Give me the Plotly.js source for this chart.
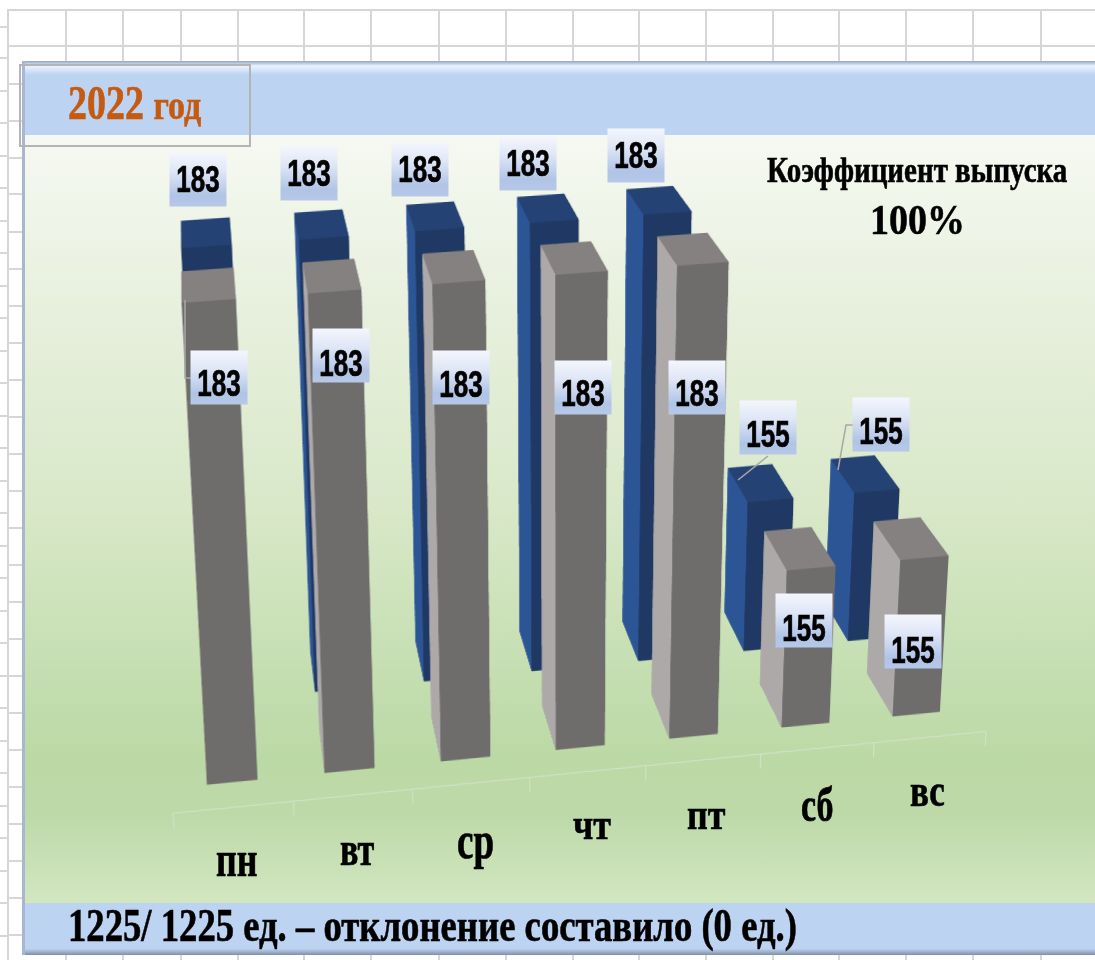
<!DOCTYPE html>
<html><head><meta charset="utf-8">
<script src="https://cdn.plot.ly/plotly-3.0.1.min.js"></script>
<style>
html,body{margin:0;padding:0;width:1095px;height:960px;overflow:hidden;background:#fff;}
#stage{position:absolute;left:0;top:0;width:1095px;height:960px;overflow:hidden;}
#sheet{position:absolute;left:0;top:0;width:1095px;height:960px;}
#sheet div{position:absolute;background:#d6d6d6;}
#panel{position:absolute;left:22px;top:61px;width:1073px;height:894px;border-left:3px solid #a9b6d0;box-sizing:border-box;
background:linear-gradient(180deg,#f6f9f2 8%,#e8f0de 27%,#d8e8c8 50%,#bbd9a5 78%,#bdd9a8 84%,#d2e6c0 94%);}
#topband{position:absolute;left:0;top:0;right:0;height:74px;background:linear-gradient(180deg,#8fa4cc 0,#eaf3ff 5px,#bdd3f2 14px,#bdd3f2 100%);}
#botband{position:absolute;left:0;bottom:0;right:0;height:52px;background:linear-gradient(180deg,#bdd3f2 0,#bdd3f2 88%,#7f8ea8 100%);}
#chart{position:absolute;}
#chart canvas{transform:matrix(1,-0.035,0,1,0,0);transform-origin:50% 50%;}
</style></head><body>
<div id="stage">
<div id="sheet"></div>
<div id="panel"><div id="topband"></div><div id="botband"></div></div>
<div id="chart"></div>
</div>
<script>
var days=["пн","вт","ср","чт","пт","сб","вс"];
var plan=[183,183,183,183,183,155,155];
var fact=[183,183,183,183,183,155,155];
var axisMin=140;
var noteTitle="Коэффициент выпуска";
var notePct="100%";
var footerText="1225/ 1225 ед. – отклонение составило (0 ед.)";

// layout constants
var W=2400,H=2130,CX=560,CY=429;
var offX=CX-W/2,offY=CY-H/2;
var chartEl=document.getElementById('chart');
chartEl.style.left=offX+'px';chartEl.style.top=offY+'px';
chartEl.style.width=W+'px';chartEl.style.height=H+'px';
function px(x){return (x-offX)/W;}
function py(y){return 1-(y-offY)/H;}

// spreadsheet grid behind the panel
(function(){
  var s=document.getElementById('sheet');
  function line(l,t,w,h){var d=document.createElement('div');d.style.cssText='left:'+l+'px;top:'+t+'px;width:'+w+'px;height:'+h+'px';s.appendChild(d);}
  [65,122,180,237,303,370,438,505,572,638,705,772,838,905,972,1040].forEach(function(x){line(x,9,2,52);line(x,955,2,5);});
  line(8,9,1087,2);line(8,45,1087,2);line(7,9,2,951);
  [26,57,90,122,155,187,220,252,285,317,350,382,415,447,480,512,545,577,610,642,675,707,740,772,805,837,870,902,935].forEach(function(y){line(0,y,7,2);});
  [83,120,157,193,231,268,305,342,379,416,453,490,527,564,601,638,675,712,749,786,823,860,897,934].forEach(function(y){line(8,y,14,2);});
})();

var GRAY={front:'#6f6c6c',left:'#ada9a8',top:'#858180'};
var BLUE={front:'#1f3864',left:'#2c5595',top:'#254274'};
var barW=0.43,barD=0.56;
function box(cx,cy,val,c){
  var x0=cx-barW/2,x1=cx+barW/2,y0=cy-barD/2,y1=cy+barD/2,z0=axisMin,z1=val;
  return {type:'mesh3d',x:[x0,x1,x1,x0,x0,x1,x1,x0],y:[y0,y0,y1,y1,y0,y0,y1,y1],z:[z0,z0,z0,z0,z1,z1,z1,z1],
   i:[0,0,4,4,0,0,1,1,2,2,3,3],j:[1,2,5,6,1,5,2,6,3,7,0,4],k:[2,3,6,7,5,4,6,5,7,6,4,7],
   facecolor:[c.front,c.front,c.top,c.top,c.front,c.front,c.front,c.front,c.left,c.left,c.left,c.left],
   flatshading:true,hoverinfo:'skip',showscale:false,
   lighting:{ambient:1,diffuse:0,specular:0,roughness:1,fresnel:0}};
}
var traces=[];
days.forEach(function(d,i){
  traces.push(box(i+0.5,1.5,plan[i],BLUE));
  traces.push(box(i+0.5,0.5,fact[i],GRAY));
});
// category axis: one line plus a tick at each category boundary
var axisY=-0.06,axisLine={color:'#d5e2ca',width:2};
function axisTrace(xs,ys,zs){return {type:'scatter3d',mode:'lines',x:xs,y:ys,z:zs,line:axisLine,hoverinfo:'skip'};}
traces.push(axisTrace([0,days.length],[axisY,axisY],[axisMin,axisMin]));
for(var t=0;t<=days.length;t++){traces.push(axisTrace([t,t],[axisY,axisY],[axisMin,axisMin-1.4]));}

var serif="'Liberation Serif','Times New Roman',serif";
var sans="'Liberation Sans',sans-serif";
var anns=[];
function txt(s,x,y,size,color,sy,family,extra){
  var a={text:s,xref:'paper',yref:'paper',x:px(x),y:py(y),xanchor:'center',yanchor:'middle',showarrow:false,
    font:{family:family||serif,size:size,color:color||'#000'},_sy:sy||1,_dy:0,_stroke:0.5};
  for(var k in extra)a[k]=extra[k];
  anns.push(a);
}
// label box centre x, y, and text drop within the box
var planBox=[[198,180,0],[309,174,0],[420,169,0],[528,163,0],[636,156,0],[768,428,7],[881,425,7]];
var factBox=[[219,377.5,5.5],[341,355.5,7.5],[461,377.5,6.5],[583,387.5,5.5],[697,387.5,5.5],[804,620,8],[913,641,9]];
function lab(v,p){txt('<b>'+v+'</b>',p[0],p[1],26,'#000',1.4,sans,{width:56,height:53,bgcolor:'#c9d8f0',borderpad:0,_dy:p[2]});}
plan.forEach(function(v,i){lab(v,planBox[i]);});
fact.forEach(function(v,i){lab(v,factBox[i]);});
var labelCount=anns.length;
var dayPos=[[236,859,36,1.4],[357,848,34,1.4],[475,839,37,1.45],[592,824,36,1.25],[706,814,36,1.25],[817,804,34,1.45],[927,790,35,1.35]];
function bold(s){return '<b>'+s+'</b>';}
days.forEach(function(d,i){txt(bold(d),dayPos[i][0],dayPos[i][1],dayPos[i][2],'#000',dayPos[i][3]);});
txt(bold('2022')+' '+'<b style="font-size:34px">год</b>',134,103,38,'#c55a11',1.25);
txt(bold(noteTitle),917,170,29,'#000',1.25);
txt(bold(notePct),917,220,38,'#000',1.1);
txt(bold(footerText),432,925,36.7,'#000',1.25);

var grayLine={color:'#a8a8a8',width:1.5};
// y axis spans 3 rows so the category axis in front of the bars is kept; one row is 0.46 scene units
var rowUnits=0.46,pivotY=rowUnits*0.5;
var layout={width:W,height:H,margin:{l:0,r:0,t:0,b:0,pad:0},paper_bgcolor:'rgba(0,0,0,0)',showlegend:false,
 scene:{domain:{x:[0,1],y:[0,1]},aspectmode:'manual',aspectratio:{x:1.988,y:rowUnits*3,z:1.70},
  bgcolor:'rgba(0,0,0,0)',
  xaxis:{visible:false,range:[0,7]},yaxis:{visible:false,range:[-1,2]},zaxis:{visible:false,range:[135,195]},
  camera:(function(){var d=6.43,p=20*Math.PI/180,a=8*Math.PI/180;
    return {eye:{x:-d*Math.cos(p)*Math.sin(a),y:pivotY-d*Math.cos(p)*Math.cos(a),z:d*Math.sin(p)},center:{x:0,y:pivotY,z:0},up:{x:0,y:0,z:1},projection:{type:'perspective'}};})()},
 shapes:[
  {type:'rect',xref:'paper',yref:'paper',x0:px(20),x1:px(250),y0:py(65),y1:py(146),line:{color:'#b4b4b4',width:2}},
  {type:'path',xref:'paper',yref:'paper',path:'M '+px(768)+' '+py(456)+' L '+px(738)+' '+py(480),line:grayLine},
  {type:'path',xref:'paper',yref:'paper',path:'M '+px(855)+' '+py(425)+' L '+px(846)+' '+py(425)+' L '+px(838)+' '+py(470),line:grayLine},
  {type:'path',xref:'paper',yref:'paper',path:'M '+px(192)+' '+py(378)+' L '+px(185)+' '+py(378)+' L '+px(185)+' '+py(300),line:grayLine}
 ],
 annotations:anns};
Plotly.newPlot('chart',traces,layout,{displayModeBar:false}).then(function(){
  var NS='http://www.w3.org/2000/svg';
  var nodes=chartEl.querySelectorAll('.annotation');
  var svg=nodes.length?nodes[0].ownerSVGElement:null;
  if(svg){
    var defs=document.createElementNS(NS,'defs');
    var g=document.createElementNS(NS,'linearGradient');
    g.setAttribute('id','lblGrad');g.setAttribute('x1','0');g.setAttribute('y1','0');g.setAttribute('x2','0');g.setAttribute('y2','1');
    [['0','#f4f6fd'],['0.35','#dfe6f6'],['0.8','#b0c4e6'],['1','#b5c8e8']].forEach(function(s){
      var st=document.createElementNS(NS,'stop');st.setAttribute('offset',s[0]);st.setAttribute('stop-color',s[1]);g.appendChild(st);});
    defs.appendChild(g);svg.insertBefore(defs,svg.firstChild);
  }
  nodes.forEach(function(n){
    var idx=+n.getAttribute('data-index');
    if(idx<labelCount){var r=n.querySelector('rect.bg');if(r)r.style.fill='url(#lblGrad)';}
    var sy=anns[idx]._sy||1,dy=anns[idx]._dy||0;
    var te=n.querySelector('text');
    if(te){
      te.style.stroke=anns[idx].font.color;te.style.strokeWidth=anns[idx]._stroke+'px';
      if(sy!==1||dy){var b=te.getBBox(),c=b.y+b.height/2;te.setAttribute('transform','translate(0,'+(c+dy)+') scale(1,'+sy+') translate(0,'+(-c)+')');}
    }
  });
});
</script></body></html>
